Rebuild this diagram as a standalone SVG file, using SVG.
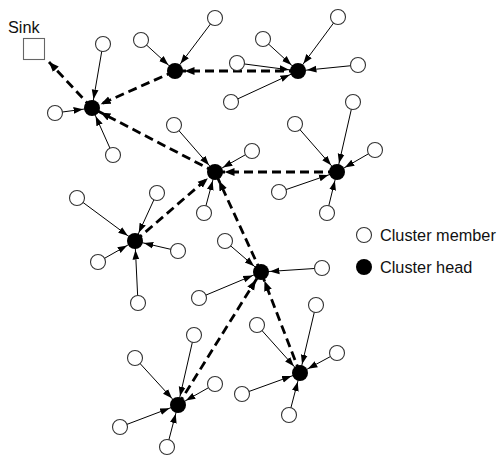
<svg xmlns="http://www.w3.org/2000/svg" width="499" height="457" viewBox="0 0 499 457">
<style>
.m{fill:#fff;stroke:#333;stroke-width:1.1}
.h{fill:#000}
.t{stroke:#000;stroke-width:1;fill:none;marker-end:url(#at)}
.d{stroke:#000;stroke-width:2.8;stroke-dasharray:9 5;fill:none;marker-end:url(#ad)}
.lbl{font-family:"Liberation Sans",Arial,sans-serif;font-size:16.3px;fill:#111}
</style>
<defs>
<marker id="at" markerUnits="userSpaceOnUse" markerWidth="30" markerHeight="10" viewBox="0 0 30 10" refX="18.5" refY="5" orient="auto"><path d="M0,1.6 L9.5,5 L0,8.4 Z" fill="#000"/></marker>
<marker id="ad" markerUnits="userSpaceOnUse" markerWidth="30" markerHeight="12" viewBox="0 0 30 12" refX="19.5" refY="6" orient="auto"><path d="M0,2 L10,6 L0,10 Z" fill="#000"/></marker>
<marker id="ad0" markerUnits="userSpaceOnUse" markerWidth="12" markerHeight="12" viewBox="0 0 12 12" refX="10" refY="6" orient="auto"><path d="M0,2 L10,6 L0,10 Z" fill="#000"/></marker>
</defs>
<rect width="499" height="457" fill="#fff"/>
<g id="connectors">
<line class="d" x1="92" y1="108" x2="49" y2="62" style="marker-end:url(#ad0)"/>
<line class="d" x1="175" y1="71" x2="92" y2="108"/>
<line class="d" x1="215" y1="172" x2="92" y2="108"/>
<line class="d" x1="298" y1="71" x2="175" y2="71"/>
<line class="d" x1="337" y1="172" x2="215" y2="172"/>
<line class="d" x1="135" y1="241" x2="215" y2="172"/>
<line class="d" x1="261" y1="272" x2="215" y2="172"/>
<line class="d" x1="300" y1="373" x2="261" y2="272"/>
<line class="d" x1="178" y1="405" x2="261" y2="272"/>
<line class="t" x1="103" y1="44" x2="92" y2="108"/>
<line class="t" x1="55" y1="113" x2="92" y2="108"/>
<line class="t" x1="113" y1="155" x2="92" y2="108"/>
<line class="t" x1="141" y1="40" x2="175" y2="71"/>
<line class="t" x1="215" y1="18" x2="175" y2="71"/>
<line class="t" x1="263" y1="39" x2="298" y2="71"/>
<line class="t" x1="338" y1="17" x2="298" y2="71"/>
<line class="t" x1="358" y1="65" x2="298" y2="71"/>
<line class="t" x1="237" y1="63" x2="298" y2="71"/>
<line class="t" x1="231" y1="102" x2="298" y2="71"/>
<line class="t" x1="174" y1="125" x2="215" y2="172"/>
<line class="t" x1="252" y1="151" x2="215" y2="172"/>
<line class="t" x1="204" y1="213" x2="215" y2="172"/>
<line class="t" x1="353" y1="102" x2="337" y2="172"/>
<line class="t" x1="295" y1="124" x2="337" y2="172"/>
<line class="t" x1="375" y1="150" x2="337" y2="172"/>
<line class="t" x1="279" y1="192" x2="337" y2="172"/>
<line class="t" x1="327" y1="213" x2="337" y2="172"/>
<line class="t" x1="77" y1="198" x2="135" y2="241"/>
<line class="t" x1="157" y1="193" x2="135" y2="241"/>
<line class="t" x1="178" y1="251" x2="135" y2="241"/>
<line class="t" x1="98" y1="262" x2="135" y2="241"/>
<line class="t" x1="138" y1="303" x2="135" y2="241"/>
<line class="t" x1="225" y1="241" x2="261" y2="272"/>
<line class="t" x1="322" y1="268" x2="261" y2="272"/>
<line class="t" x1="199" y1="298" x2="261" y2="272"/>
<line class="t" x1="257" y1="325" x2="300" y2="373"/>
<line class="t" x1="316" y1="305" x2="300" y2="373"/>
<line class="t" x1="337" y1="353" x2="300" y2="373"/>
<line class="t" x1="242" y1="394" x2="300" y2="373"/>
<line class="t" x1="289" y1="415" x2="300" y2="373"/>
<line class="t" x1="194" y1="335" x2="178" y2="405"/>
<line class="t" x1="135" y1="358" x2="178" y2="405"/>
<line class="t" x1="215" y1="384" x2="178" y2="405"/>
<line class="t" x1="120" y1="427" x2="178" y2="405"/>
<line class="t" x1="167" y1="447" x2="178" y2="405"/>
</g>
<g id="sink"><rect x="23.5" y="38.5" width="21" height="21" fill="#fff" stroke="#666" stroke-width="1.1"/><text class="lbl" x="8" y="33">Sink</text></g>
<g id="head1"><circle class="h" cx="92" cy="108" r="8"/></g>
<g id="head2"><circle class="h" cx="175" cy="71" r="8"/></g>
<g id="head3"><circle class="h" cx="298" cy="71" r="8"/></g>
<g id="head4"><circle class="h" cx="215" cy="172" r="8"/></g>
<g id="head5"><circle class="h" cx="337" cy="172" r="8"/></g>
<g id="head6"><circle class="h" cx="135" cy="241" r="8"/></g>
<g id="head7"><circle class="h" cx="261" cy="272" r="8"/></g>
<g id="head8"><circle class="h" cx="300" cy="373" r="8"/></g>
<g id="head9"><circle class="h" cx="178" cy="405" r="8"/></g>
<g id="members">
<g id="m1a"><circle class="m" cx="103" cy="44" r="7.5"/></g>
<g id="m1b"><circle class="m" cx="55" cy="113" r="7.5"/></g>
<g id="m1c"><circle class="m" cx="113" cy="155" r="7.5"/></g>
<g id="m2a"><circle class="m" cx="141" cy="40" r="7.5"/></g>
<g id="m2b"><circle class="m" cx="215" cy="18" r="7.5"/></g>
<g id="m3a"><circle class="m" cx="263" cy="39" r="7.5"/></g>
<g id="m3b"><circle class="m" cx="338" cy="17" r="7.5"/></g>
<g id="m3c"><circle class="m" cx="358" cy="65" r="7.5"/></g>
<g id="m3d"><circle class="m" cx="237" cy="63" r="7.5"/></g>
<g id="m3e"><circle class="m" cx="231" cy="102" r="7.5"/></g>
<g id="m4a"><circle class="m" cx="174" cy="125" r="7.5"/></g>
<g id="m4b"><circle class="m" cx="252" cy="151" r="7.5"/></g>
<g id="m4c"><circle class="m" cx="204" cy="213" r="7.5"/></g>
<g id="m5a"><circle class="m" cx="353" cy="102" r="7.5"/></g>
<g id="m5b"><circle class="m" cx="295" cy="124" r="7.5"/></g>
<g id="m5c"><circle class="m" cx="375" cy="150" r="7.5"/></g>
<g id="m5d"><circle class="m" cx="279" cy="192" r="7.5"/></g>
<g id="m5e"><circle class="m" cx="327" cy="213" r="7.5"/></g>
<g id="m6a"><circle class="m" cx="77" cy="198" r="7.5"/></g>
<g id="m6b"><circle class="m" cx="157" cy="193" r="7.5"/></g>
<g id="m6c"><circle class="m" cx="178" cy="251" r="7.5"/></g>
<g id="m6d"><circle class="m" cx="98" cy="262" r="7.5"/></g>
<g id="m6e"><circle class="m" cx="138" cy="303" r="7.5"/></g>
<g id="m7a"><circle class="m" cx="225" cy="241" r="7.5"/></g>
<g id="m7b"><circle class="m" cx="322" cy="268" r="7.5"/></g>
<g id="m7c"><circle class="m" cx="199" cy="298" r="7.5"/></g>
<g id="m8a"><circle class="m" cx="257" cy="325" r="7.5"/></g>
<g id="m8b"><circle class="m" cx="316" cy="305" r="7.5"/></g>
<g id="m8c"><circle class="m" cx="337" cy="353" r="7.5"/></g>
<g id="m8d"><circle class="m" cx="242" cy="394" r="7.5"/></g>
<g id="m8e"><circle class="m" cx="289" cy="415" r="7.5"/></g>
<g id="m9a"><circle class="m" cx="194" cy="335" r="7.5"/></g>
<g id="m9b"><circle class="m" cx="135" cy="358" r="7.5"/></g>
<g id="m9c"><circle class="m" cx="215" cy="384" r="7.5"/></g>
<g id="m9d"><circle class="m" cx="120" cy="427" r="7.5"/></g>
<g id="m9e"><circle class="m" cx="167" cy="447" r="7.5"/></g>
</g>
<g id="legend">
<circle class="m" cx="364" cy="235" r="7.5"/>
<text class="lbl" x="380" y="241">Cluster member</text>
<circle class="h" cx="364" cy="267" r="8"/>
<text class="lbl" x="380" y="273">Cluster head</text>
</g>
</svg>
